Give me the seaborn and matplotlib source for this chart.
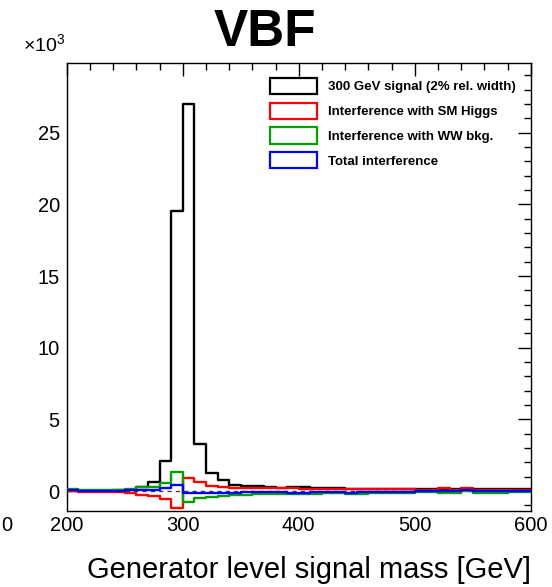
import numpy as np
import pandas as pd
import matplotlib
matplotlib.use("Agg")
import matplotlib.pyplot as plt
import seaborn as sns
from matplotlib.patches import Patch
from matplotlib.ticker import MultipleLocator

# ---- data (values in units of 10^3 events), 10 GeV bins from 200 to 600 GeV ----
bin_edges = list(range(200, 610, 10))
signal = [0.02, 0.02, 0.02, 0.02, 0.05, 0.10, 0.30, 0.65, 2.10, 19.55,
          27.00, 3.28, 1.28, 0.75, 0.42, 0.35, 0.33, 0.25, 0.22, 0.28,
          0.27, 0.20, 0.19, 0.18, 0.17, 0.16, 0.16, 0.15, 0.15, 0.14,
          0.14, 0.13, 0.13, 0.13, 0.12, 0.12, 0.12, 0.12, 0.11, 0.11]
interf_sm = [0.00, -0.07, -0.07, -0.07, -0.07, -0.12, -0.28, -0.35, -0.52, -1.16,
             0.88, 0.60, 0.36, 0.27, 0.22, 0.20, 0.20, 0.19, 0.19, 0.19,
             0.17, 0.17, 0.16, 0.16, 0.16, 0.16, 0.16, 0.16, 0.16, 0.16,
             0.10, 0.10, 0.20, 0.10, 0.20, 0.10, 0.10, 0.10, 0.10, 0.10]
interf_ww = [0.12, 0.10, 0.05, 0.05, 0.08, 0.15, 0.25, 0.30, 0.55, 1.35,
             -0.75, -0.50, -0.40, -0.33, -0.28, -0.24, -0.20, -0.20, -0.18, -0.18,
             -0.20, -0.20, -0.15, -0.15, -0.18, -0.18, -0.12, -0.12, -0.12, -0.12,
             -0.08, -0.08, -0.12, -0.12, 0.00, -0.10, -0.10, -0.10, -0.05, -0.05]
interf_tot = [0.05, 0.02, 0.02, 0.02, 0.02, 0.05, 0.05, 0.08, 0.20, 0.42,
              -0.10, -0.16, -0.16, -0.16, -0.10, -0.08, -0.08, -0.08, -0.08, -0.15,
              -0.15, -0.08, -0.08, -0.08, -0.12, -0.05, -0.05, -0.05, -0.05, -0.05,
              0.00, 0.00, 0.00, 0.00, 0.10, 0.00, 0.00, 0.00, 0.00, 0.00]
series_labels = ["300 GeV signal (2% rel. width)", "Interference with SM Higgs",
                 "Interference with WW bkg.", "Total interference"]
series_colors = ["black", "#ff0000", "#00a000", "#0000ff"]
x_ticks = [200, 300, 400, 500, 600]
y_ticks = [0, 5, 10, 15, 20, 25]

centers = [(bin_edges[i] + bin_edges[i + 1]) / 2 for i in range(len(bin_edges) - 1)]
frames = []
for lab, vals in zip(series_labels, [signal, interf_sm, interf_ww, interf_tot]):
    frames.append(pd.DataFrame({"mass": centers, "w": vals, "series": lab}))
df = pd.concat(frames, ignore_index=True)

sns.set_theme(style="white")
plt.rcParams["font.family"] = ["Liberation Sans", "DejaVu Sans"]
plt.rcParams["mathtext.fontset"] = "custom"
plt.rcParams["mathtext.rm"] = "Liberation Sans"
for k in ["text.color", "axes.labelcolor", "xtick.color", "ytick.color", "axes.edgecolor"]:
    plt.rcParams[k] = "black"

W, H = 552, 587
fig = plt.figure(figsize=(W / 100, H / 100), dpi=100)
L, R, T, B = 66.7, 530.7, 63.3, 510.7
ax = fig.add_axes([L / W, 1 - B / H, (R - L) / W, (B - T) / H])

ax.axhline(0, color="0.25", lw=1.0, dashes=(3, 3), zorder=1)
order = [0, 2, 1, 3]
for i in order:
    sub = df[df["series"] == series_labels[i]]
    sns.histplot(data=sub, x="mass", weights="w", bins=bin_edges, element="step",
                 fill=False, color=series_colors[i], linewidth=1.7, ax=ax, zorder=2 + i)

ax.set_xlim(200, 600)
ax.set_ylim(-1.37, 29.85)
ax.set_xticks(x_ticks)
ax.set_yticks(y_ticks)
ax.xaxis.set_minor_locator(MultipleLocator(20))
ax.yaxis.set_minor_locator(MultipleLocator(1))
ax.tick_params(which="both", direction="in", top=True, right=True, color="black",
               labelcolor="black", width=1.0, labelsize=14.5)
ax.tick_params(which="major", length=9.5)
ax.tick_params(which="minor", length=5)
ax.tick_params(axis="y", pad=5)
ax.tick_params(axis="x", pad=4)
ax.set_xticklabels([str(v) for v in x_ticks])
ax.set_yticklabels([str(v) for v in y_ticks])
for s in ax.spines.values():
    s.set_color("black")
    s.set_linewidth(1.0)
ax.set_xlabel("")
ax.set_ylabel("")

fig.text(R / W, 1 - 578 / H, "Generator level signal mass [GeV]", ha="right",
         va="baseline", fontsize=21, color="black")
fig.text(265 / W, 1 - 46 / H, "VBF", ha="center", va="baseline", fontsize=37,
         fontweight="bold", color="black")
fig.text(23 / W, 1 - 52 / H, r"$\times10^{3}$", ha="left", va="baseline", fontsize=14,
         color="black")
fig.text(1 / W, 1 - 531 / H, "0", ha="left", va="baseline", fontsize=14.5, color="black")

handles = [Patch(facecolor="none", edgecolor=c, linewidth=1.6) for c in series_colors]
fs = 9.5
fpx = fs * 100 / 72
leg = ax.legend(handles, series_labels, loc="upper left",
                bbox_to_anchor=(270 / W, 1 - 78 / H), bbox_transform=fig.transFigure,
                frameon=False, borderpad=0, borderaxespad=0,
                handlelength=47 / fpx, handleheight=20 / fpx,
                handletextpad=11 / fpx, labelspacing=8.5 / fpx,
                prop={"family": "Liberation Sans", "weight": "bold", "size": fs})
for t in leg.get_texts():
    t.set_color("black")

fig.savefig("out.png", dpi=100)
